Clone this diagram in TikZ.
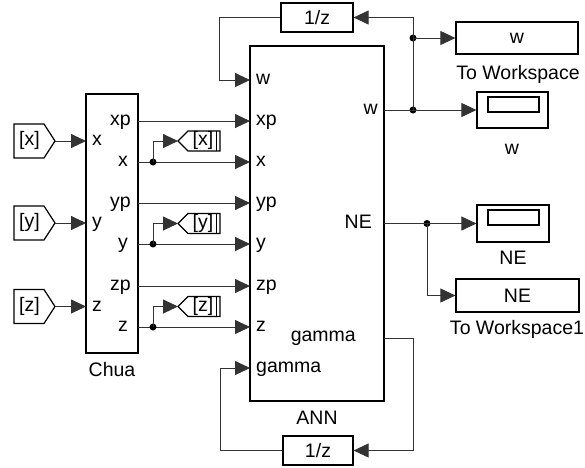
\documentclass[tikz,border=0pt]{standalone}
\usepackage{fontspec}
\setmainfont{Liberation Sans}
\usetikzlibrary{arrows.meta}
\begin{document}
\begin{tikzpicture}[x=1pt,y=-1pt,
  blk/.style={draw=black,line width=1.2pt,inner sep=0pt,font=\fontsize{19.5}{21}\selectfont},
  sig/.style={draw=black!80,line width=0.9pt,-{Triangle[length=15pt,width=14pt]}},
  wire/.style={draw=black!80,line width=0.9pt},
  lbl/.style={font=\fontsize{19.5}{21}\selectfont,inner sep=0pt,text height=12pt,text depth=3pt},
  dotn/.style={circle,fill=black,inner sep=0pt,minimum size=7pt},
  tag/.style={draw=black,line width=1.2pt}
]
\useasboundingbox (0,0) rectangle (585,467);
% main blocks
\node[blk,minimum width=52pt,minimum height=259pt] (chua) at (112,223.5) {};
\node[blk,minimum width=134pt,minimum height=355pt] (ann) at (317,223.5) {};
\node[lbl] (chualbl) at (112,372) {Chua};
\node[lbl] (annlbl) at (317,420) {ANN};
% delays
\node[blk,minimum width=72pt,minimum height=29pt] (delay1) at (317,17.5) {1/z};
\node[blk,minimum width=70pt,minimum height=29pt] (delay2) at (318,450.5) {1/z};
% sinks
\node[blk,minimum width=71pt,minimum height=36pt] (wscope) at (512.5,110) {};
\draw[line width=1.2pt] (488,97) rectangle (539,112);
\node[lbl] (wscopelbl) at (512,150) {w};
\node[blk,minimum width=72pt,minimum height=37pt] (nescope) at (513,223.5) {};
\draw[line width=1.2pt] (488,210) rectangle (539,225);
\node[lbl] (nescopelbl) at (513,260) {NE};
\node[blk,minimum width=122pt,minimum height=32pt] (tows) at (517,38) {w};
\node[lbl] (towslbl) at (518,75) {To Workspace};
\node[blk,minimum width=123pt,minimum height=33pt] (tows1) at (517.5,295.5) {NE};
\node[lbl] (tows1lbl) at (517,330) {To Workspace1};
% from tags
\foreach \n/\c/\t in {fx/141/x, fy/223/y, fz/306.5/z}{
  \draw[tag] (14,\c-17) -- (44,\c-17) -- (55,\c) -- (44,\c+17) -- (14,\c+17) -- cycle;
  \node[lbl] (\n) at (29.5,\c) {[\t]};
  \coordinate (\n tip) at (55,\c);
}
% goto tags
\foreach \n/\c/\t in {gx/141/x, gy/223.5/y, gz/306.5/z}{
  \draw[tag] (178,\c) -- (188,\c-10) -- (220,\c-10) -- (220,\c+10) -- (188,\c+10) -- cycle;
  \draw[line width=1pt] (216.5,\c-10) -- (216.5,\c+10);
  \node[lbl] (\n) at (203,\c) {[\t]};
  \coordinate (\n tip) at (178,\c);
}
% port coordinates
\coordinate (cix) at (86,141);
\coordinate (ciy) at (86,223);
\coordinate (ciz) at (86,306.5);
\coordinate (cxp) at (138,121);
\coordinate (cx) at (138,162);
\coordinate (cyp) at (138,203);
\coordinate (cy) at (138,244);
\coordinate (czp) at (138,286);
\coordinate (cz) at (138,327);
\coordinate (aw) at (250,80);
\coordinate (axp) at (250,121);
\coordinate (ax) at (250,162);
\coordinate (ayp) at (250,203);
\coordinate (ay) at (250,244);
\coordinate (azp) at (250,286);
\coordinate (az) at (250,327);
\coordinate (ag) at (250,368);
\coordinate (ow) at (384,110);
\coordinate (one) at (384,223.5);
\coordinate (og) at (384,338);
% port labels
\node[lbl,anchor=west] (lcix) at (92,141) {x};
\node[lbl,anchor=west] (lciy) at (92,223) {y};
\node[lbl,anchor=west] (lciz) at (92,306.5) {z};
\node[lbl,anchor=east] (lcxp) at (131,121) {xp};
\node[lbl,anchor=east] (lcx) at (128,162) {x};
\node[lbl,anchor=east] (lcyp) at (131,203) {yp};
\node[lbl,anchor=east] (lcy) at (128,244) {y};
\node[lbl,anchor=east] (lczp) at (131,286) {zp};
\node[lbl,anchor=east] (lcz) at (128,327) {z};
\node[lbl,anchor=west] (law) at (256,80) {w};
\node[lbl,anchor=west] (laxp) at (256,121) {xp};
\node[lbl,anchor=west] (lax) at (256,162) {x};
\node[lbl,anchor=west] (layp) at (256,203) {yp};
\node[lbl,anchor=west] (lay) at (256,244) {y};
\node[lbl,anchor=west] (lazp) at (256,286) {zp};
\node[lbl,anchor=west] (laz) at (256,327) {z};
\node[lbl,anchor=west] (lag) at (256,368) {gamma};
\node[lbl,anchor=east] (low) at (378,110) {w};
\node[lbl,anchor=east] (lone) at (372,223.5) {NE};
\node[lbl,anchor=east] (log) at (356,337) {gamma};
% inputs to Chua
\draw[sig] (fxtip) -- (cix);
\draw[sig] (fytip) -- (ciy);
\draw[sig] (fztip) -- (ciz);
% Chua to ANN
\draw[sig] (cxp) -- (axp);
\draw[sig] (cx) -- (ax);
\draw[sig] (cyp) -- (ayp);
\draw[sig] (cy) -- (ay);
\draw[sig] (czp) -- (azp);
\draw[sig] (cz) -- (az);
% branches to goto tags
\node[dotn] (dx) at (153,162) {};
\node[dotn] (dy) at (153,244) {};
\node[dotn] (dz) at (153,327) {};
\draw[sig] (dx.center) |- (gxtip);
\draw[sig] (dy.center) |- (gytip);
\draw[sig] (dz.center) |- (gztip);
% w output
\node[dotn] (dw1) at (413,110) {};
\node[dotn] (dw2) at (413,38) {};
\draw[sig] (ow) -- (wscope.west);
\draw[sig] (dw1.center) |- (delay1.east);
\draw[sig] (dw2.center) -- (tows.west);
\coordinate (b1) at (219,17.5);
\draw[sig] (delay1.west) -- (b1) |- (aw);
% NE output
\node[dotn] (dne) at (427,223.5) {};
\draw[sig] (one) -- (nescope.west);
\draw[sig] (dne.center) |- (tows1.west);
% gamma feedback
\coordinate (b2) at (413,338);
\coordinate (b3) at (220,450.5);
\draw[sig] (og) -- (b2) |- (delay2.east);
\draw[sig] (delay2.west) -- (b3) |- (ag);
\end{tikzpicture}
\end{document}
